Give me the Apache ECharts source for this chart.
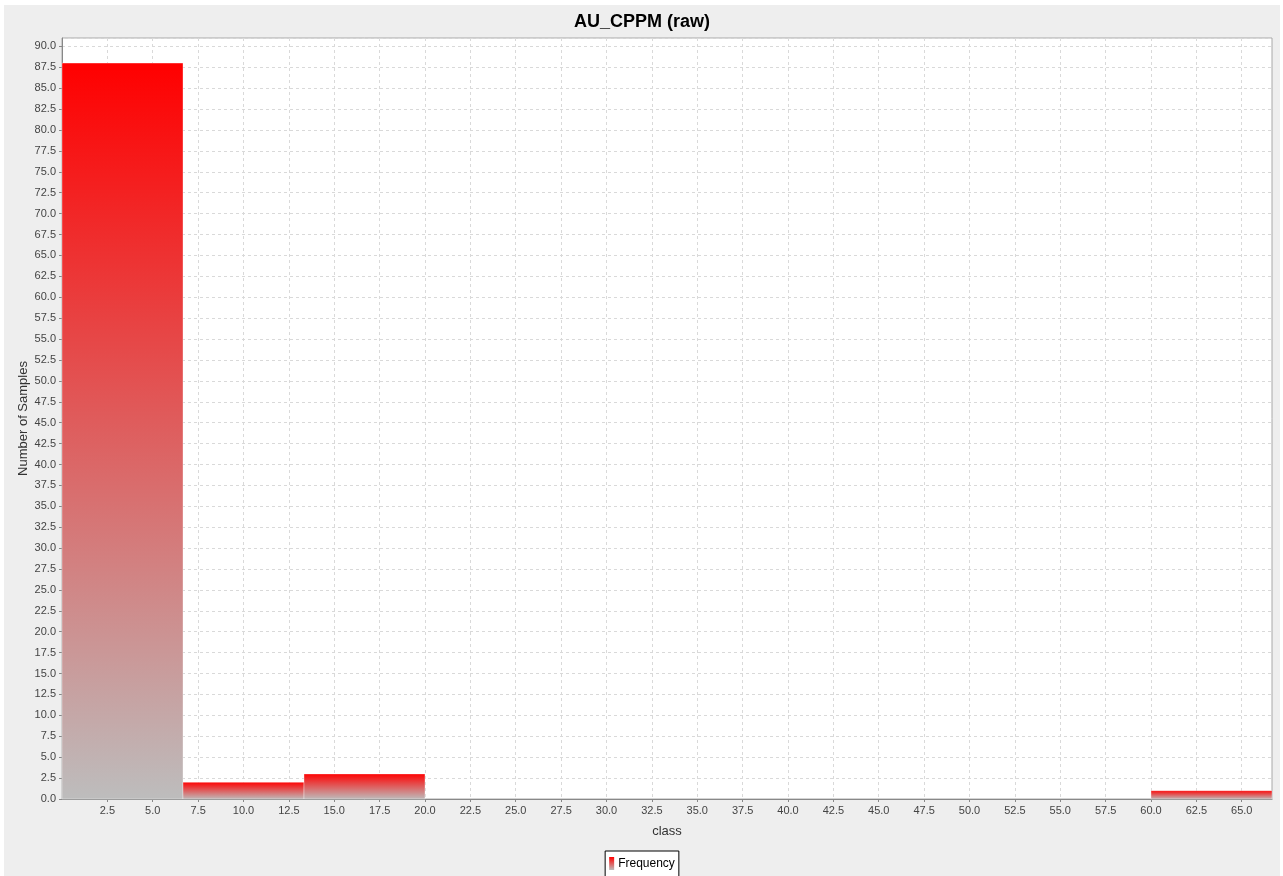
<!DOCTYPE html>
<html>
<head>
<meta charset="utf-8">
<script src="https://cdn.jsdelivr.net/npm/echarts@6/dist/echarts.min.js"></script>
<style>
html,body{margin:0;padding:0;background:#ffffff;width:1283px;height:876px;overflow:hidden;}
#chart{position:absolute;left:4px;top:5px;width:1276px;height:871px;background:#EEEEEE;}
</style>
</head>
<body>
<div id="chart"></div>
<script>
// Histogram bins (class boundaries) and frequencies
var binStart = [0, 6.6667, 13.3333, 20, 26.6667, 33.3333, 40, 46.6667, 53.3333, 60];
var binEnd   = [6.6667, 13.3333, 20, 26.6667, 33.3333, 40, 46.6667, 53.3333, 60, 66.6667];
var counts   = [88, 2, 3, 0, 0, 0, 0, 0, 0, 1];
var xTickValues = [2.5, 5, 7.5, 10, 12.5, 15, 17.5, 20, 22.5, 25, 27.5, 30, 32.5, 35, 37.5, 40, 42.5, 45, 47.5, 50, 52.5, 55, 57.5, 60, 62.5, 65];
var titleText = 'AU_CPPM (raw)';
var xName = 'class';
var yName = 'Number of Samples';
var seriesName = 'Frequency';

var data = binStart.map(function (s, i) { return [s, binEnd[i], counts[i]]; });

function barGradient() {
  return new echarts.graphic.LinearGradient(0, 0, 0, 1, [
    { offset: 0, color: '#FF0000' },
    { offset: 1, color: '#BDBDBD' }
  ]);
}

var chart = echarts.init(document.getElementById('chart'), null, { renderer: 'canvas' });
var font = 'Liberation Sans, Arial, sans-serif';
chart.setOption({
  animation: false,
  backgroundColor: '#EEEEEE',
  textStyle: { fontFamily: font },
  title: {
    text: titleText,
    left: 'center',
    top: 3,
    textStyle: { fontFamily: font, fontSize: 18, fontWeight: 'bold', color: '#000' }
  },
  legend: {
    data: [{ name: seriesName, icon: 'rect' }],
    left: 'center',
    top: 846,
    itemWidth: 5,
    itemHeight: 13,
    itemGap: 4,
    padding: [6, 4, 10, 4],
    borderColor: '#000',
    borderWidth: 1,
    backgroundColor: '#FFFFFF',
    textStyle: { fontFamily: font, fontSize: 12, color: '#000', padding: [0, 0, 0, -1] }
  },
  grid: {
    left: 58, right: 8, top: 33, bottom: 77,
    show: true,
    backgroundColor: '#FFFFFF',
    borderColor: '#A8A8A8',
    borderWidth: 1
  },
  xAxis: {
    type: 'value',
    min: 0,
    max: binEnd[binEnd.length - 1],
    interval: 2.5,
    name: xName,
    nameLocation: 'middle',
    nameGap: 26,
    nameMoveOverlap: false,
    nameTextStyle: { fontFamily: font, fontSize: 13, color: '#333' },
    axisLine: { show: true, lineStyle: { color: '#888888' } },
    axisTick: { show: true, length: 3, customValues: xTickValues, lineStyle: { color: '#888888' } },
    axisLabel: {
      fontFamily: font, fontSize: 11, color: '#444', margin: 6,
      customValues: xTickValues,
      formatter: function (v) { return v.toFixed(1); }
    },
    splitLine: { show: true, lineStyle: { color: '#D9D9D9', type: [3, 3], width: 1 } }
  },
  yAxis: {
    type: 'value',
    min: 0,
    max: 91,
    interval: 2.5,
    name: yName,
    nameLocation: 'middle',
    nameGap: 32,
    nameMoveOverlap: false,
    nameTextStyle: { fontFamily: font, fontSize: 13, color: '#333' },
    axisLine: { show: true, lineStyle: { color: '#888888' } },
    axisTick: { show: true, length: 3, lineStyle: { color: '#888888' } },
    axisLabel: {
      fontFamily: font, fontSize: 11, color: '#444', margin: 6,
      showMaxLabel: false,
      formatter: function (v) { return (Math.round(v * 10) % 25 === 0) ? v.toFixed(1) : ''; }
    },
    splitLine: { show: true, lineStyle: { color: '#D9D9D9', type: [3, 3], width: 1 } }
  },
  series: [{
    type: 'custom',
    name: seriesName,
    itemStyle: { color: barGradient() },
    encode: { x: [0, 1], y: 2 },
    data: data,
    renderItem: function (params, api) {
      var y = api.value(2);
      if (!y) return null;
      var p0 = api.coord([api.value(0), y]);
      var p1 = api.coord([api.value(1), 0]);
      return {
        type: 'rect',
        shape: { x: p0[0], y: p0[1], width: p1[0] - p0[0], height: p1[1] - p0[1] },
        style: { fill: barGradient(), stroke: 'rgba(255,255,255,0.35)', lineWidth: 1 }
      };
    }
  }]
});
</script>
</body>
</html>
